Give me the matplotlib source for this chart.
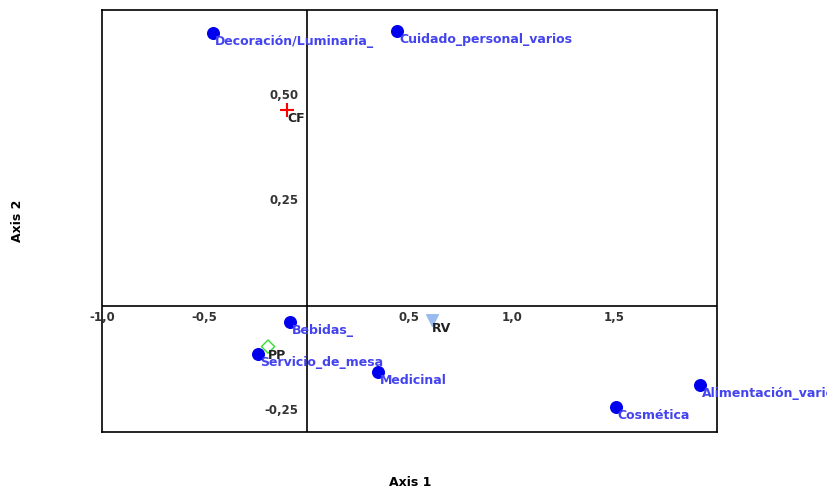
import matplotlib
matplotlib.use("Agg")
import matplotlib.pyplot as plt

names = ["Decoración/Luminaria_", "Cuidado_personal_varios", "Bebidas_", "Servicio_de_mesa",
         "Medicinal", "Cosmética", "Alimentación_varios"]
px = [-0.46, 0.44, -0.083, -0.24, 0.347, 1.506, 1.917]
py = [0.648, 0.653, -0.038, -0.114, -0.157, -0.24, -0.188]
vars_ = ["CF", "PP", "RV"]
vx = [-0.098, -0.19, 0.611]
vy = [0.466, -0.097, -0.033]
xticks = [-1.0, -0.5, 0.5, 1.0, 1.5]
yticks = [-0.25, 0.25, 0.50]

fig = plt.figure(figsize=(8.28, 4.99), dpi=100)
ax = fig.add_axes([102/828, 1-432/499, 615/828, 422/499])
ax.set_xlim(-1.0, 2.0)
ax.set_ylim(-0.30, 0.703)
ax.axhline(0, color="black", lw=1.2)
ax.axvline(0, color="black", lw=1.2)
ax.set_xticks([]); ax.set_yticks([])
for s in ax.spines.values():
    s.set_linewidth(1.2)

for t in xticks:
    ax.text(t, -0.012, f"{t:.1f}".replace(".", ","), ha="center", va="top",
            fontsize=8.5, fontweight="bold", color="#333333")
for t in yticks:
    ax.text(-0.04, t, f"{t:.2f}".replace(".", ","), ha="right", va="center",
            fontsize=8.5, fontweight="bold", color="#333333")

ax.scatter(px, py, s=70, color="#0000ee", zorder=3)
for n, x, y in zip(names, px, py):
    ax.text(x + 0.01, y - 0.005, n, fontsize=9, fontweight="bold", color="#4444ee",
            va="top", ha="left", clip_on=False)

ax.scatter([vx[0]], [vy[0]], marker="+", s=90, color="red", zorder=3)
ax.scatter([vx[1]], [vy[1]], marker="D", s=45, facecolor="none", edgecolor="#33dd33", zorder=3)
ax.scatter([vx[2]], [vy[2]], marker="v", s=70, color="#99bbee", zorder=3)
for n, x, y in zip(vars_, vx, vy):
    ax.text(x + 0.0, y - 0.005, n, fontsize=9, fontweight="bold", color="#222222",
            va="top", ha="left")

fig.text(410/828, 1-483/499, "Axis 1", ha="center", va="center", fontsize=9, fontweight="bold")
fig.text(18/828, 1-221/499, "Axis 2", ha="center", va="center", rotation=90, fontsize=9, fontweight="bold")
fig.savefig("out.png", dpi=100)
